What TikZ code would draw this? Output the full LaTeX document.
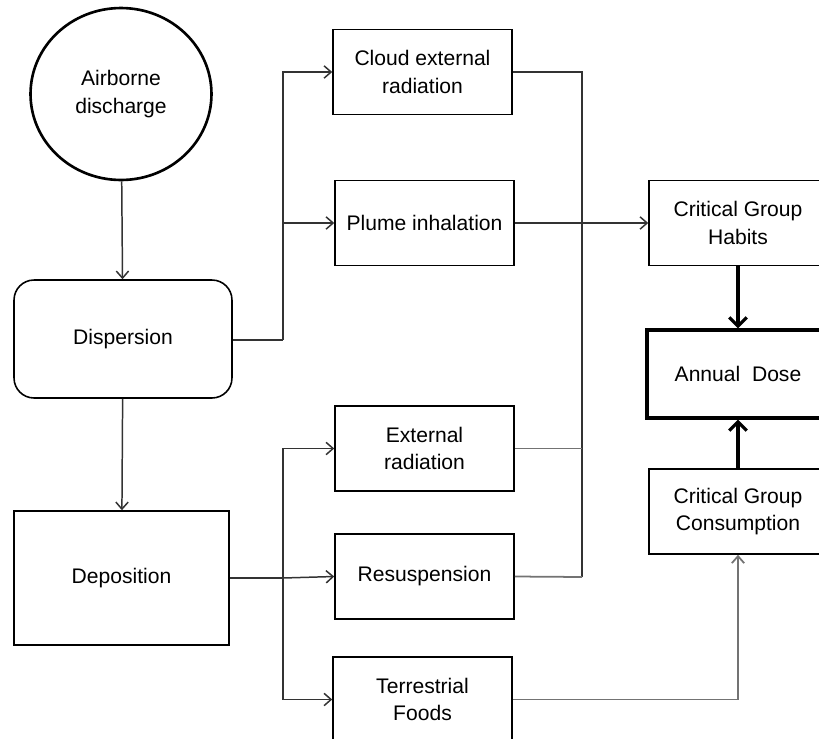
\documentclass[tikz,border=0pt]{standalone}
\usepackage{fontspec}
\setmainfont{Liberation Sans}
\usetikzlibrary{arrows.meta,shapes.geometric}
\tikzset{
  stage/.style={draw, line width=0.9pt, minimum width=3.58cm, minimum height=1.7cm, align=center},
  link/.style={line width=0.85pt, black!80},
  faint/.style={line width=1pt, black!55},
  tip/.style={-{Straight Barb[length=4pt,width=7pt]}},
  bigtip/.style={-{Straight Barb[length=5pt,width=10pt,line width=1.8pt]}}
}
\begin{document}
\begin{tikzpicture}[x=0.02cm,y=-0.02cm,font=\fontsize{12}{15.8}\selectfont]
\useasboundingbox (0,0) rectangle (819,738);

\node[draw, ellipse, line width=1.5pt, minimum width=3.62cm, minimum height=3.44cm, align=center] (air) at (121,94) {Airborne\\discharge};
\node[stage, rounded corners=0.4cm, minimum width=4.36cm, minimum height=2.36cm] (disp) at (123,339) {Dispersion};
\node[stage, minimum width=4.3cm, minimum height=2.68cm] (depo) at (121.5,578) {Deposition};

\node[stage] (cloud) at (422.5,72) {Cloud external\\radiation};
\node[stage] (plume) at (424.5,223) {Plume inhalation};
\node[stage] (ext) at (424.5,448.5) {External\\radiation};
\node[stage] (resus) at (424.5,576.5) {Resuspension};
\node[stage] (terr) at (422.5,699.5) {Terrestrial\\Foods};

\node[stage, minimum width=3.56cm] (habits) at (738,223) {Critical Group\\Habits};
\node[stage, line width=1.9pt, minimum width=3.64cm, minimum height=1.76cm] (dose) at (738,374) {Annual~~Dose};
\node[stage, minimum width=3.56cm] (cons) at (738,511.5) {Critical Group\\Consumption};

\coordinate (dsplit) at (283,340);
\coordinate (psplit) at (283,578);
\coordinate (rjoin) at (582,577);

\draw[link, tip] (air) -- (disp);
\draw[link, tip] (disp) -- (depo);

% dispersion paths
\draw[link, line width=1.1pt] (disp.east |- dsplit) -- (dsplit);
\draw[link, tip] (dsplit) |- (cloud.west);
\draw[link, tip] (dsplit) |- (plume.west);

% deposition paths
\draw[link, line width=1.1pt] (depo.east) -- (psplit);
\draw[link, tip] (psplit) |- (ext.west);
\draw[link, tip] (psplit) -- (resus.west);
\draw[link, tip] (psplit) |- (terr.west);

% collector
\draw[link] (cloud.east) -| (rjoin);
\draw[faint] (ext.east) -- (ext.east -| rjoin);
\draw[faint] (resus.east) -- (rjoin);
\draw[link, tip] (plume.east) -- (habits.west);
\draw[faint, tip] (terr.east) -| (cons.south);

\draw[line width=1.8pt, bigtip] (habits) -- (dose);
\draw[line width=1.8pt, bigtip] (cons) -- (dose);
\end{tikzpicture}
\end{document}
